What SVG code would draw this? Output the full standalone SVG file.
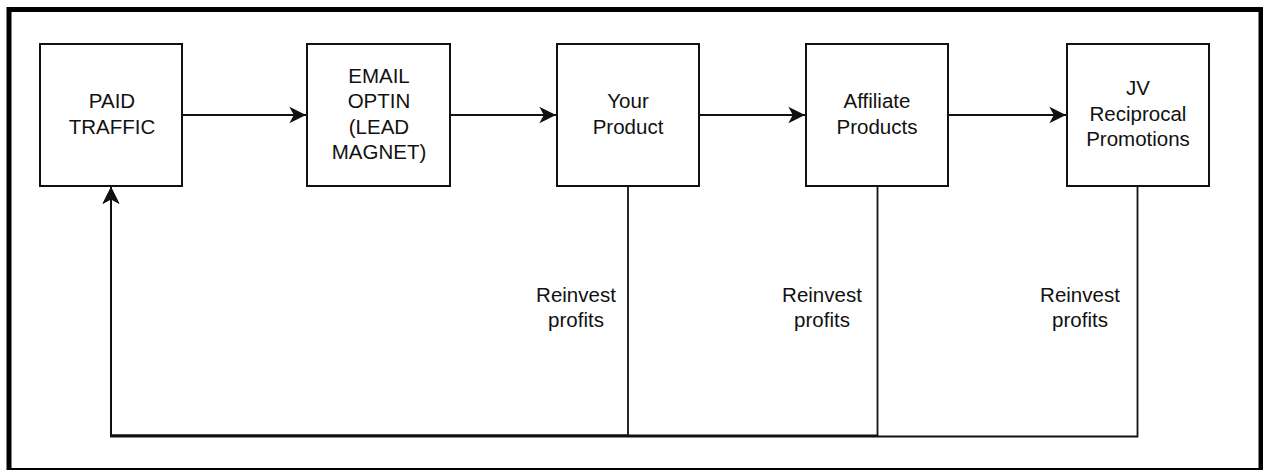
<svg xmlns="http://www.w3.org/2000/svg" width="1263" height="470" viewBox="0 0 1263 470">
<style>
.box{fill:#fff;stroke:#111;stroke-width:2}
.lbl{font-family:"Liberation Sans",Arial,Helvetica,sans-serif;font-size:20.5px;fill:#111;text-anchor:middle}
.edge{fill:none;stroke:#111;stroke-width:1.8}
</style>
<defs>
<marker id="arr" markerUnits="userSpaceOnUse" markerWidth="20" markerHeight="20" viewBox="-16 -9 18 18" refX="0" refY="0" orient="auto">
<path d="M0,0 L-15,-7.5 L-11,0 L-15,7.5 Z" fill="#111"/>
</marker>
</defs>
<rect x="0" y="0" width="1263" height="470" fill="#fff"/>
<rect x="9" y="9.5" width="1252" height="461" fill="none" stroke="#000" stroke-width="5"/>
<g id="connectors">
<line class="edge" x1="182" y1="115" x2="306" y2="115" marker-end="url(#arr)"/>
<line class="edge" x1="450" y1="115" x2="556" y2="115" marker-end="url(#arr)"/>
<line class="edge" x1="699" y1="115" x2="805" y2="115" marker-end="url(#arr)"/>
<line class="edge" x1="948" y1="115" x2="1066" y2="115" marker-end="url(#arr)"/>
<path class="edge" d="M628,186 V435.5 H111 V187" marker-end="url(#arr)"/>
<path class="edge" d="M877.5,186 V435.5 H111 V187" marker-end="url(#arr)"/>
<path class="edge" d="M1137.5,186 V436.5 H111 V187" marker-end="url(#arr)"/>
<g class="lbl">
<text x="576" y="302">Reinvest</text><text x="576" y="327">profits</text>
<text x="822" y="302">Reinvest</text><text x="822" y="327">profits</text>
<text x="1080" y="302">Reinvest</text><text x="1080" y="327">profits</text>
</g>
</g>
<g id="paid">
<rect class="box" x="40" y="44" width="142" height="142"/>
<text class="lbl" x="112" y="108">PAID</text><text class="lbl" x="112" y="134">TRAFFIC</text>
</g>
<g id="email">
<rect class="box" x="307" y="44" width="143" height="142"/>
<text class="lbl" x="379" y="83">EMAIL</text><text class="lbl" x="379" y="108">OPTIN</text><text class="lbl" x="379" y="133.5">(LEAD</text><text class="lbl" x="379" y="159">MAGNET)</text>
</g>
<g id="product">
<rect class="box" x="557" y="44" width="142" height="142"/>
<text class="lbl" x="628" y="108">Your</text><text class="lbl" x="628" y="133.5">Product</text>
</g>
<g id="affiliate">
<rect class="box" x="806" y="44" width="142" height="142"/>
<text class="lbl" x="877" y="108">Affiliate</text><text class="lbl" x="877" y="133.5">Products</text>
</g>
<g id="jv">
<rect class="box" x="1067" y="44" width="142" height="142"/>
<text class="lbl" x="1138" y="95">JV</text><text class="lbl" x="1138" y="120.5">Reciprocal</text><text class="lbl" x="1138" y="146">Promotions</text>
</g>
</svg>
